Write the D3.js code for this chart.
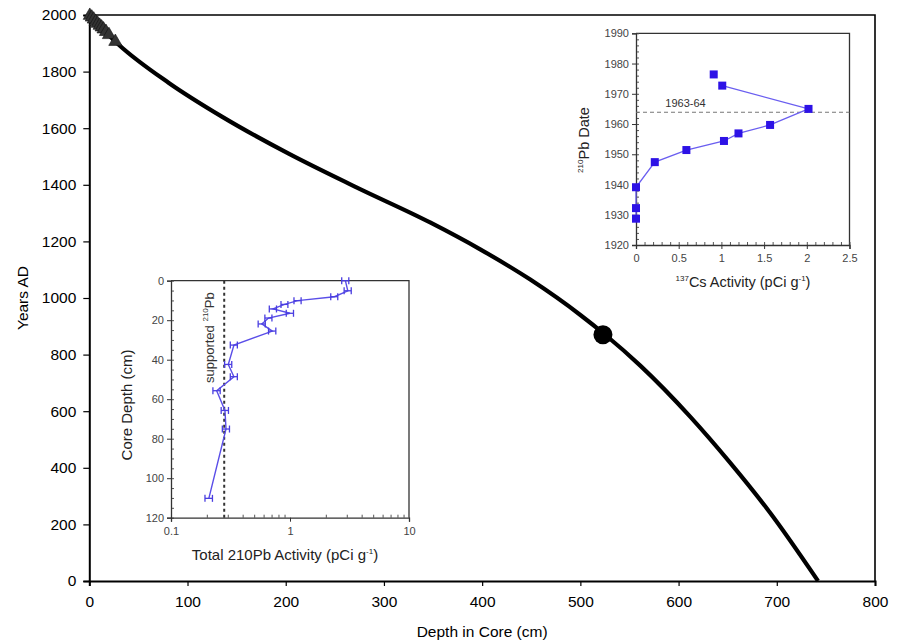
<!DOCTYPE html>
<html>
<head>
<meta charset="utf-8">
<script src="https://cdn.jsdelivr.net/npm/d3@7"></script>
<style>
  body { margin: 0; background: #fff; }
  svg { display: block; font-family: "Liberation Sans", Arial, sans-serif; }
</style>
</head>
<body>
<div id="chart"></div>
<script>
(function(){
  'use strict';

  // ---- main age-depth model (depth cm -> years AD)
  const modelDepth = [0, 30, 81, 135, 203, 272, 347, 398, 449, 500, 525, 561, 612, 652, 693, 742];
  const modelYear  = [2000, 1895, 1760, 1641, 1510, 1391, 1267, 1172, 1065, 940, 871, 761, 580, 420, 242, 0];

  // 210Pb dates (triangles)
  const pbDepth = [0.5, 2.5, 4.5, 6.5, 8.5, 10.5, 12.5, 14.5, 17, 20, 26.5];
  const pbYear  = [1998, 1992, 1985, 1976, 1970, 1963, 1957, 1950, 1941, 1930, 1906];

  // radiocarbon date (big dot)
  const c14Depth = [523];
  const c14Year  = [870];

  const depthTicks = [0, 100, 200, 300, 400, 500, 600, 700, 800];
  const yearTicks  = [0, 200, 400, 600, 800, 1000, 1200, 1400, 1600, 1800, 2000];

  // ---- inset: 137Cs activity vs 210Pb date
  const csActivity = [0.91, 1.01, 2.02, 1.57, 1.20, 1.03, 0.59, 0.22, 0, 0, 0];
  const csDate     = [1976.4, 1972.7, 1965.0, 1959.7, 1956.9, 1954.4, 1951.4, 1947.4, 1939.1, 1932.2, 1928.7];
  const csTicks     = [0, 0.5, 1, 1.5, 2, 2.5];
  const csDateTicks = [1920, 1930, 1940, 1950, 1960, 1970, 1980, 1990];
  const bombPeak = 1963.9;

  // ---- inset: total 210Pb activity vs core depth
  const pbActDepth = [0, 5.1, 8.1, 10.1, 12.0, 14.3, 16.5, 18.9, 21.9, 25.5, 32.6, 42.4, 48.6, 55.7, 65.7, 75.1, 110.2];
  const pbActivity = [2.92, 3.06, 2.36, 1.16, 0.90, 0.72, 1.00, 0.66, 0.58, 0.71, 0.338, 0.303, 0.338, 0.242, 0.284, 0.290, 0.208];
  const pbActErr   = [0.20, 0.21, 0.16, 0.08, 0.06, 0.05, 0.07, 0.045, 0.04, 0.05, 0.023, 0.021, 0.023, 0.017, 0.02, 0.02, 0.015];
  const supported = 0.28;
  const coreDepthTicks = [0, 20, 40, 60, 80, 100, 120];
  const activityTicks  = [0.1, 1, 10];

  const W = 904, H = 644;
  const svg = d3.select("#chart").append("svg")
    .attr("width", W).attr("height", H);

  // ================= main chart =================
  const x = d3.scaleLinear().domain([0, 800]).range([89.3, 875]);
  const y = d3.scaleLinear().domain([0, 2000]).range([581, 15]);

  // frame (top + right)
  svg.append("path")
    .attr("d", `M${x(0)},${y(2000)}H${x(800)}V${y(0)}`)
    .attr("fill", "none").attr("stroke", "#000").attr("stroke-width", 1.6);

  const xAxis = svg.append("g")
    .attr("transform", `translate(0,${y(0)})`)
    .call(d3.axisBottom(x).tickValues(depthTicks).tickSize(5).tickPadding(10).tickFormat(d3.format("d")));
  const yAxis = svg.append("g")
    .attr("transform", `translate(${x(0)},0)`)
    .call(d3.axisLeft(y).tickValues(yearTicks).tickSize(6).tickPadding(7).tickFormat(d3.format("d")));
  [xAxis, yAxis].forEach(g => {
    g.select(".domain").attr("stroke-width", 2);
    g.selectAll(".tick line").attr("stroke-width", 1.2);
    g.selectAll("text").attr("font-size", 15.5).attr("fill", "#000")
      .attr("font-family", '"Liberation Sans", Arial, sans-serif');
  });

  svg.append("text")
    .attr("x", (x(0) + x(800)) / 2).attr("y", 637)
    .attr("text-anchor", "middle").attr("font-size", 15.5)
    .text("Depth in Core (cm)");
  svg.append("text")
    .attr("transform", `translate(27.5,${(y(0) + y(2000)) / 2}) rotate(-90)`)
    .attr("text-anchor", "middle").attr("font-size", 15.5)
    .text("Years AD");

  const model = modelDepth.map((d, i) => [d, modelYear[i]]);
  const line = d3.line()
    .x(d => x(d[0]))
    .y(d => y(d[1]))
    .curve(d3.curveMonotoneX);
  svg.append("path")
    .datum(model)
    .attr("fill", "none").attr("stroke", "#000")
    .attr("stroke-width", 4.2).attr("stroke-linejoin", "round")
    .attr("d", line);

  svg.append("g").selectAll("path")
    .data(pbDepth.map((d, i) => [d, pbYear[i]]))
    .join("path")
    .attr("transform", d => `translate(${x(d[0])},${y(d[1])})`)
    .attr("d", d3.symbol(d3.symbolTriangle, 75))
    .attr("fill", "#333").attr("stroke", "#111").attr("stroke-width", 0.6);

  svg.append("g").selectAll("circle")
    .data(c14Depth.map((d, i) => [d, c14Year[i]]))
    .join("circle")
    .attr("cx", d => x(d[0])).attr("cy", d => y(d[1]))
    .attr("r", 9.5).attr("fill", "#000");

  // helper for small inset axes
  function styleInsetAxis(g) {
    g.select(".domain").attr("stroke", "#333").attr("stroke-width", 1.3);
    g.selectAll(".tick line").attr("stroke", "#333");
    g.selectAll("text").attr("font-size", 11).attr("fill", "#444")
      .attr("font-family", '"Liberation Sans", Arial, sans-serif');
  }

  // ================= right inset: 137Cs =================
  const cx = d3.scaleLinear().domain([0, 2.5]).range([636, 849.5]);
  const cy = d3.scaleLinear().domain([1920, 1990]).range([245, 33.3]);
  const cs = svg.append("g");

  cs.append("path")
    .attr("d", `M${cx(0)},${cy(1990)}H${cx(2.5)}V${cy(1920)}`)
    .attr("fill", "none").attr("stroke", "#333").attr("stroke-width", 1.3);

  // minor ticks (inward)
  cs.append("g").attr("transform", `translate(0,${cy(1920)})`)
    .call(d3.axisTop(cx).tickValues(d3.range(0, 2.51, 0.1)).tickSize(3).tickFormat(""))
    .call(g => g.select(".domain").remove())
    .call(g => g.selectAll("line").attr("stroke", "#555"));
  cs.append("g").attr("transform", `translate(${cx(0)},0)`)
    .call(d3.axisRight(cy).tickValues(d3.range(1920, 1991, 2)).tickSize(3).tickFormat(""))
    .call(g => g.select(".domain").remove())
    .call(g => g.selectAll("line").attr("stroke", "#555"));

  cs.append("g").attr("transform", `translate(0,${cy(1920)})`)
    .call(d3.axisBottom(cx).tickValues(csTicks).tickSize(4).tickPadding(5).tickFormat(d3.format("")))
    .call(styleInsetAxis);
  cs.append("g").attr("transform", `translate(${cx(0)},0)`)
    .call(d3.axisLeft(cy).tickValues(csDateTicks).tickSize(4).tickPadding(3).tickFormat(d3.format("d")))
    .call(styleInsetAxis);

  cs.append("line")
    .attr("x1", cx(0)).attr("x2", cx(2.5))
    .attr("y1", cy(bombPeak)).attr("y2", cy(bombPeak))
    .attr("stroke", "#777").attr("stroke-width", 1.2).attr("stroke-dasharray", "4,3");
  cs.append("text")
    .attr("x", cx(0.58)).attr("y", cy(bombPeak) - 5)
    .attr("text-anchor", "middle").attr("font-size", 11).attr("fill", "#333")
    .text("1963-64");

  const csPts = csActivity.map((v, i) => [v, csDate[i]]);
  cs.append("path")
    .datum(csPts.slice(1))
    .attr("fill", "none").attr("stroke", "#6a5ef0").attr("stroke-width", 1.3)
    .attr("d", d3.line().x(d => cx(d[0])).y(d => cy(d[1])));
  cs.append("g").selectAll("rect")
    .data(csPts)
    .join("rect")
    .attr("x", d => cx(d[0]) - 4).attr("y", d => cy(d[1]) - 4)
    .attr("width", 8).attr("height", 8)
    .attr("fill", "#2d12e6");

  const csYT = cs.append("text")
    .attr("transform", `translate(589,140) rotate(-90)`)
    .attr("text-anchor", "middle").attr("font-size", 14.5).attr("fill", "#222");
  csYT.append("tspan").attr("font-size", 8).attr("dy", -6).text("210");
  csYT.append("tspan").attr("dy", 6).text("Pb Date");

  const csXT = cs.append("text")
    .attr("x", 743).attr("y", 287)
    .attr("text-anchor", "middle").attr("font-size", 14.5).attr("fill", "#222");
  csXT.append("tspan").attr("font-size", 8).attr("dy", -6).text("137");
  csXT.append("tspan").attr("dy", 6).text("Cs Activity (pCi g");
  csXT.append("tspan").attr("font-size", 8).attr("dy", -6).text("-1");
  csXT.append("tspan").attr("dy", 6).text(")");

  // ================= left inset: total 210Pb =================
  const lx = d3.scaleLog().domain([0.1, 10]).range([171, 409]);
  const ly = d3.scaleLinear().domain([0, 120]).range([280.7, 517.7]);
  const pb = svg.append("g");

  pb.append("path")
    .attr("d", `M${lx(0.1)},${ly(0)}H${lx(10)}V${ly(120)}`)
    .attr("fill", "none").attr("stroke", "#333").attr("stroke-width", 1.3);

  const logMinor = [0.2, 0.3, 0.4, 0.5, 0.6, 0.7, 0.8, 0.9, 2, 3, 4, 5, 6, 7, 8, 9];
  pb.append("g").attr("transform", `translate(0,${ly(120)})`)
    .call(d3.axisTop(lx).tickValues(logMinor).tickSize(3).tickFormat(""))
    .call(g => g.select(".domain").remove())
    .call(g => g.selectAll("line").attr("stroke", "#555"));
  pb.append("g").attr("transform", `translate(${lx(0.1)},0)`)
    .call(d3.axisRight(ly).tickValues(d3.range(0, 121, 5)).tickSize(3).tickFormat(""))
    .call(g => g.select(".domain").remove())
    .call(g => g.selectAll("line").attr("stroke", "#555"));

  pb.append("g").attr("transform", `translate(0,${ly(120)})`)
    .call(d3.axisBottom(lx).tickValues(activityTicks).tickSize(4).tickPadding(6).tickFormat(d3.format("")))
    .call(styleInsetAxis);
  pb.append("g").attr("transform", `translate(${lx(0.1)},0)`)
    .call(d3.axisLeft(ly).tickValues(coreDepthTicks).tickSize(4).tickPadding(3).tickFormat(d3.format("d")))
    .call(styleInsetAxis);

  pb.append("line")
    .attr("x1", lx(supported)).attr("x2", lx(supported))
    .attr("y1", ly(0)).attr("y2", ly(120))
    .attr("stroke", "#333").attr("stroke-width", 2).attr("stroke-dasharray", "3,3");

  const supT = pb.append("text")
    .attr("transform", `translate(214,383) rotate(-90)`)
    .attr("font-size", 13).attr("fill", "#333");
  supT.append("tspan").text("supported ");
  supT.append("tspan").attr("font-size", 8).attr("dy", -6).text("210");
  supT.append("tspan").attr("dy", 6).text("Pb");

  const pbPts = pbActivity.map((v, i) => ({ v, d: pbActDepth[i], e: pbActErr[i] }));
  pb.append("path")
    .datum(pbPts)
    .attr("fill", "none").attr("stroke", "#5a4ee8").attr("stroke-width", 1.4)
    .attr("d", d3.line().x(d => lx(d.v)).y(d => ly(d.d)));
  const eb = pb.append("g").attr("stroke", "#4a3ee0").attr("stroke-width", 1.3)
    .selectAll("g").data(pbPts).join("g");
  eb.append("line")
    .attr("x1", d => lx(d.v - d.e)).attr("x2", d => lx(d.v + d.e))
    .attr("y1", d => ly(d.d)).attr("y2", d => ly(d.d));
  eb.append("line")
    .attr("x1", d => lx(d.v - d.e)).attr("x2", d => lx(d.v - d.e))
    .attr("y1", d => ly(d.d) - 3.5).attr("y2", d => ly(d.d) + 3.5);
  eb.append("line")
    .attr("x1", d => lx(d.v + d.e)).attr("x2", d => lx(d.v + d.e))
    .attr("y1", d => ly(d.d) - 3.5).attr("y2", d => ly(d.d) + 3.5);

  pb.append("text")
    .attr("transform", `translate(132,405) rotate(-90)`)
    .attr("text-anchor", "middle").attr("font-size", 15).attr("fill", "#222")
    .text("Core Depth (cm)");
  const pbXT = pb.append("text")
    .attr("x", 285).attr("y", 560)
    .attr("text-anchor", "middle").attr("font-size", 15).attr("fill", "#222");
  pbXT.append("tspan").text("Total 210Pb Activity (pCi g");
  pbXT.append("tspan").attr("font-size", 8).attr("dy", -6).text("-1");
  pbXT.append("tspan").attr("dy", 6).text(")");
}());
</script>
</body>
</html>
